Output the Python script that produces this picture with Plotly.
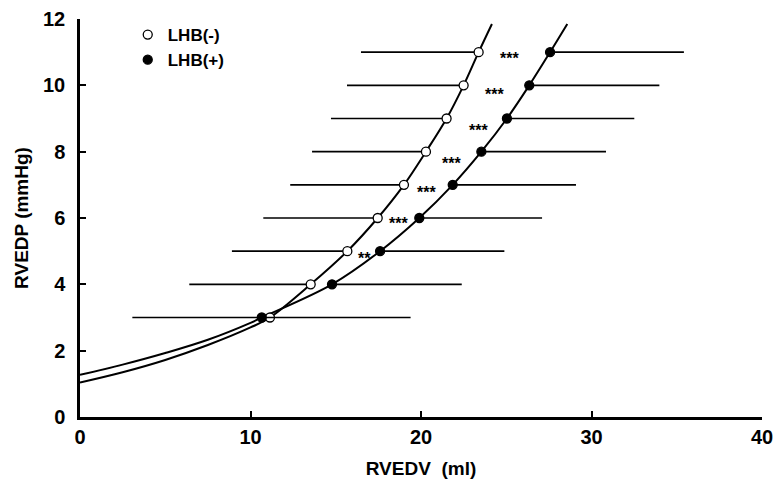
import plotly.graph_objects as go

# Data
pressure = [3, 4, 5, 6, 7, 8, 9, 10, 11]            # RVEDP (mmHg)
vol_neg = [11.14, 13.53, 15.68, 17.46, 19.0, 20.29, 21.5, 22.5, 23.38]   # LHB(-) RVEDV
sd_neg = [8.07, 7.12, 6.77, 6.71, 6.67, 6.68, 6.78, 6.84, 6.9]
vol_pos = [10.66, 14.78, 17.6, 19.9, 21.86, 23.54, 25.04, 26.35, 27.57]  # LHB(+) RVEDV
sd_pos = [8.73, 7.61, 7.29, 7.2, 7.23, 7.31, 7.47, 7.63, 7.85]

# fitted curves
curve_neg_x = [0, 2.5, 5, 7.5, 10, 11.14, 13.53, 15.68, 17.46, 19.0, 20.29, 21.5, 22.5, 23.38, 24.16]
curve_neg_y = [1.04, 1.35, 1.72, 2.17, 2.7, 3, 4, 5, 6, 7, 8, 9, 10, 11, 11.85]
curve_pos_x = [0, 2.5, 5, 7.5, 10, 10.66, 14.78, 17.6, 19.9, 21.86, 23.54, 25.04, 26.35, 27.57, 28.58]
curve_pos_y = [1.27, 1.58, 1.93, 2.33, 2.84, 3, 4, 5, 6, 7, 8, 9, 10, 11, 11.85]

# significance marks
star_x = [16.7, 18.7, 20.3, 21.8, 23.35, 24.3, 25.2]
star_y = [4.88, 5.91, 6.87, 7.74, 8.74, 9.81, 10.9]
star_text = ["**", "***", "***", "***", "***", "***", "***"]

FONT = "Liberation Sans, Arial, sans-serif"

fig = go.Figure()

fig.add_trace(go.Scatter(x=curve_neg_x, y=curve_neg_y, mode="lines",
                         line=dict(color="black", width=2, shape="spline", smoothing=1),
                         showlegend=False, hoverinfo="skip"))
fig.add_trace(go.Scatter(x=curve_pos_x, y=curve_pos_y, mode="lines",
                         line=dict(color="black", width=2, shape="spline", smoothing=1),
                         showlegend=False, hoverinfo="skip"))

fig.add_trace(go.Scatter(
    x=vol_neg, y=pressure, mode="markers", name="LHB(-)",
    marker=dict(symbol="circle", size=9, color="white", line=dict(color="black", width=1.3)),
    error_x=dict(type="data", symmetric=False, array=[0]*len(sd_neg), arrayminus=sd_neg,
                 color="black", thickness=1.6, width=0),
))
fig.add_trace(go.Scatter(
    x=vol_pos, y=pressure, mode="markers", name="LHB(+)",
    marker=dict(symbol="circle", size=9, color="black", line=dict(color="black", width=1.3)),
    error_x=dict(type="data", symmetric=False, array=sd_pos, arrayminus=[0]*len(sd_pos),
                 color="black", thickness=1.6, width=0),
))

for sx, sy, st in zip(star_x, star_y, star_text):
    fig.add_annotation(x=sx, y=sy, text=st, showarrow=False, yshift=-3,
                       font=dict(family="Liberation Sans", size=16, color="black", weight="bold"))

fig.update_layout(
    width=774, height=486,
    margin=dict(l=80, r=12, t=19, b=69, autoexpand=False),
    paper_bgcolor="white", plot_bgcolor="white",
    font=dict(family=FONT, color="black"),
    legend=dict(x=0.07, y=1.005, xanchor="left", yanchor="top",
                bgcolor="rgba(0,0,0,0)", font=dict(family=FONT, size=17, weight="bold"),
                tracegroupgap=0, itemwidth=30),
    xaxis=dict(range=[0, 40], tickvals=[0, 10, 20, 30, 40], showgrid=False, zeroline=False,
               showline=True, linecolor="black", linewidth=2.5, ticks="inside", ticklen=6,
               tickwidth=2, tickcolor="black", ticklabeloverflow="allow", automargin=False,
               tickfont=dict(family=FONT, size=20, weight="bold"),
               title=dict(text="RVEDV  (ml)", font=dict(family=FONT, size=19, weight="bold"), standoff=15)),
    yaxis=dict(range=[0, 12], tickvals=[0, 2, 4, 6, 8, 10, 12], showgrid=False, zeroline=False,
               showline=True, linecolor="black", linewidth=2.5, ticks="inside", ticklen=6,
               tickwidth=2, tickcolor="black", ticklabelstandoff=8, automargin=False,
               tickfont=dict(family=FONT, size=20, weight="bold"),
               title=dict(text="RVEDP (mmHg)", font=dict(family=FONT, size=19, weight="bold"), standoff=10)),
)

fig.write_html("out.html")
